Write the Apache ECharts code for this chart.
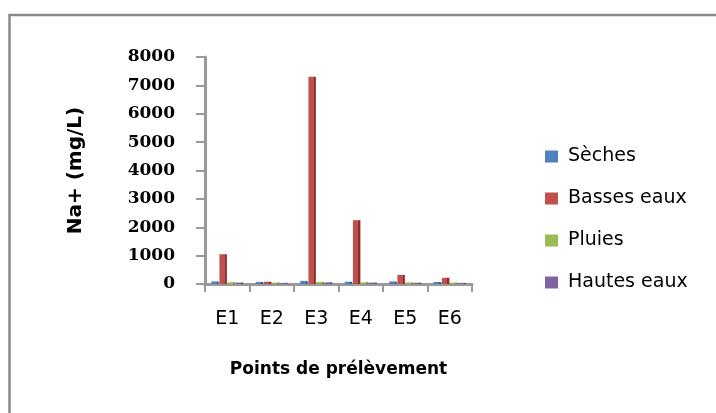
<!DOCTYPE html>
<html>
<head>
<meta charset="utf-8">
<script src="https://cdn.jsdelivr.net/npm/echarts@6/dist/echarts.min.js"></script>
<style>html,body{margin:0;padding:0;background:#fff;}#c{width:716px;height:413px;}</style>
</head>
<body>
<div id="c"></div>
<script>
const categories = ['E1', 'E2', 'E3', 'E4', 'E5', 'E6'];
const seriesNames = ['Sèches', 'Basses eaux', 'Pluies', 'Hautes eaux'];
const seches = [90, 70, 110, 80, 90, 70];
const bassesEaux = [1050, 80, 7300, 2250, 320, 220];
const pluies = [60, 50, 70, 60, 55, 50];
const hautesEaux = [50, 40, 60, 50, 45, 40];
const yTicks = [0, 1000, 2000, 3000, 4000, 5000, 6000, 7000, 8000];

const colors = [['#4F81BD', '#2F5C8F'], ['#C0504D', '#8A2E2B'], ['#9BBB59', '#6E8C35'], ['#8064A2', '#5A4378']];
function face(c) {
  return {
    type: 'linear', x: 0, y: 0, x2: 1, y2: 0,
    colorStops: [
      { offset: 0, color: c[0] }, { offset: 0.72, color: c[0] },
      { offset: 0.72, color: c[1] }, { offset: 1, color: c[1] }
    ]
  };
}
const allData = [seches, bassesEaux, pluies, hautesEaux];

const chart = echarts.init(document.getElementById('c'));
chart.setOption({
  backgroundColor: '#fff',
  animation: false,
  color: colors.map(c => c[0]),
  graphic: [{
    type: 'rect', silent: true,
    shape: { x: 9.5, y: 15, width: 800, height: 500 },
    style: { fill: 'none', stroke: '#898989', lineWidth: 2.5 }
  }],
  legend: {
    orient: 'vertical',
    left: 540, top: 142,
    itemWidth: 13, itemHeight: 12, itemGap: 23,
    icon: 'rect',
    data: seriesNames.map((n, i) => ({ name: n, itemStyle: { color: colors[i][0] } })),
    textStyle: { fontFamily: 'DejaVu Sans', fontSize: 19, color: '#000', padding: [0, 0, 0, 5] }
  },
  grid: { left: 205, right: 244, top: 57, bottom: 129 },
  xAxis: {
    type: 'category',
    data: categories,
    name: 'Points de prélèvement',
    nameLocation: 'middle',
    nameGap: 77,
    nameTextStyle: { fontFamily: 'DejaVu Sans', fontWeight: 'bold', fontSize: 17, color: '#000' },
    axisLine: { lineStyle: { color: '#999', width: 3 } },
    axisTick: { show: true, length: 8, lineStyle: { color: '#999', width: 2 } },
    axisLabel: { margin: 26, fontFamily: 'DejaVu Sans', fontSize: 19, color: '#000' }
  },
  yAxis: {
    type: 'value',
    min: 0, max: 8000, interval: 1000,
    name: 'Na+ (mg/L)',
    nameLocation: 'middle',
    nameGap: 119,
    nameRotate: 90,
    nameTextStyle: { fontFamily: 'DejaVu Sans', fontWeight: 'bold', fontSize: 20, color: '#000' },
    axisLine: { show: true, lineStyle: { color: '#999', width: 3 } },
    axisTick: { show: true, length: 9, lineStyle: { color: '#999', width: 2 } },
    splitLine: { show: false },
    axisLabel: {
      margin: 30, fontFamily: 'DejaVu Serif', fontWeight: 'bold', fontSize: 17, color: '#000',
      formatter: v => String(v),
      customValues: yTicks
    }
  },
  series: seriesNames.map((n, i) => ({
    name: n,
    type: 'bar',
    data: allData[i],
    barGap: '10%',
    barCategoryGap: '28%',
    itemStyle: { color: face(colors[i]) }
  }))
});
</script>
</body>
</html>
